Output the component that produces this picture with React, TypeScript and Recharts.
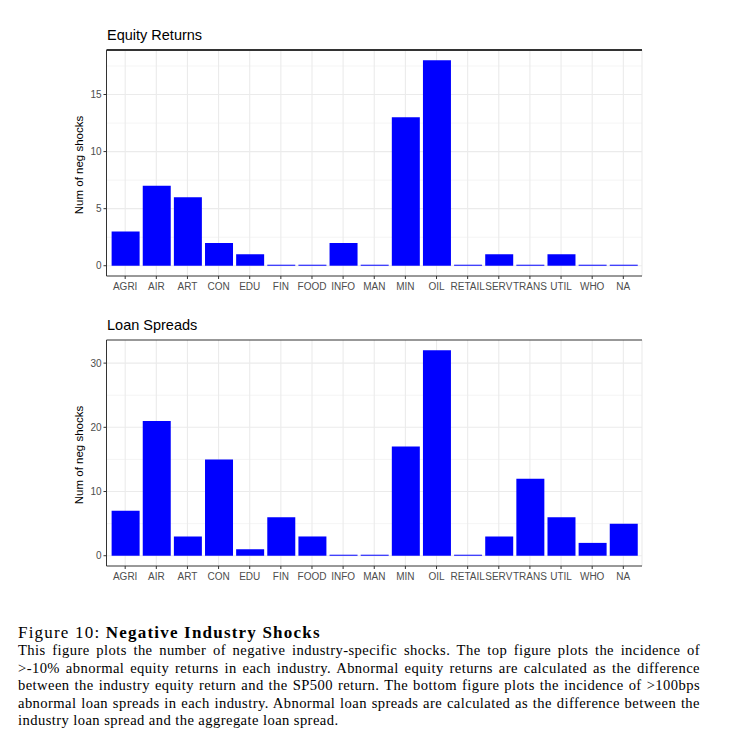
import { BarChart, Bar, XAxis, YAxis, CartesianGrid } from "recharts";

const industries = [
  "AGRI", "AIR", "ART", "CON", "EDU", "FIN", "FOOD", "INFO", "MAN",
  "MIN", "OIL", "RETAIL", "SERV", "TRANS", "UTIL", "WHO", "NA",
];

const equityShocks = [3, 7, 6, 2, 1, 0, 0, 2, 0, 13, 18, 0, 1, 0, 1, 0, 0];
const loanShocks = [7, 21, 3, 15, 1, 6, 3, 0, 0, 17, 32, 0, 3, 12, 6, 2, 5];

const equityTicks = [0, 5, 10, 15];
const equityMinor = [2.5, 7.5, 12.5, 17.5];
const loanTicks = [0, 10, 20, 30];
const loanMinor = [5, 15, 25];

const captionLines = [
  "This figure plots the number of negative industry-specific shocks.  The top figure plots the incidence of",
  ">-10% abnormal equity returns in each industry. Abnormal equity returns are calculated as the difference",
  "between the industry equity return and the SP500 return. The bottom figure plots the incidence of >100bps",
  "abnormal loan spreads in each industry. Abnormal loan spreads are calculated as the difference between the",
  "industry loan spread and the aggregate loan spread.",
];

const SANS = "'Liberation Sans', Arial, sans-serif";
const SERIF = "'Liberation Serif', 'Times New Roman', serif";

// ggplot-style expansion: 5% on continuous, 0.6 units on discrete
const xDomain = [-0.6, industries.length - 1 + 0.6];
const xTicks = industries.map((_, i) => i);

function expand(values: number[]): [number, number] {
  const max = Math.max(...values);
  return [-max * 0.05, max * 1.05];
}

interface PanelProps {
  title: string;
  values: number[];
  ticks: number[];
  minor: number[];
  top: number;
  topBorder: number;
}

function Panel({ title, values, ticks, minor, top, topBorder }: PanelProps) {
  const data = industries.map((name, i) => ({ idx: i, name, value: values[i] }));
  const yDomain = expand(values);

  return (
    <div style={{ position: "absolute", left: 0, top, width: 732, height: 300 }}>
      <div
        style={{
          position: "absolute",
          left: 107,
          top: 28,
          fontFamily: SANS,
          fontSize: 14.5,
          lineHeight: "14px",
          color: "#000",
          whiteSpace: "nowrap",
        }}
      >
        {title}
      </div>
      <div
        style={{
          position: "absolute",
          left: 79,
          top: 165,
          transform: "translate(-50%, -50%) rotate(-90deg)",
          fontFamily: SANS,
          fontSize: 11.5,
          lineHeight: "11px",
          color: "#000",
          whiteSpace: "nowrap",
        }}
      >
        Num of neg shocks
      </div>
      <BarChart
        width={732}
        height={300}
        data={data}
        margin={{ top: 50, right: 90, bottom: 4, left: 76.5 }}
      >
        <CartesianGrid
          vertical={false}
          horizontalValues={minor}
          stroke="#EBEBEB"
          strokeWidth={0.55}
        />
        <CartesianGrid
          horizontalValues={ticks}
          verticalValues={[...xTicks, xDomain[1]]}
          stroke="#EBEBEB"
          strokeWidth={1.1}
        />
        <CartesianGrid
          vertical={false}
          horizontalValues={[yDomain[1]]}
          stroke="#333333"
          strokeWidth={topBorder}
        />
        <XAxis
          dataKey="idx"
          type="number"
          domain={xDomain}
          ticks={xTicks}
          interval={0}
          allowDataOverflow
          tickFormatter={(i: number) => industries[i]}
          height={20}
          axisLine={{ stroke: "#333333", strokeWidth: 1 }}
          tickLine={{ stroke: "#333333" }}
          tickSize={3}
          tickMargin={4}
          tick={{ fill: "#4D4D4D", fontSize: 10, fontFamily: SANS }}
        />
        <YAxis
          type="number"
          domain={yDomain}
          ticks={ticks}
          allowDataOverflow
          width={30}
          axisLine={{ stroke: "#333333", strokeWidth: 1 }}
          tickLine={{ stroke: "#333333" }}
          tickSize={3}
          tickMargin={2}
          tick={{ fill: "#4D4D4D", fontSize: 10, fontFamily: SANS }}
        />
        <Bar
          dataKey="value"
          fill="#0000FF"
          barSize={28}
          minPointSize={1}
          isAnimationActive={false}
        />
      </BarChart>
    </div>
  );
}

export default function App() {
  return (
    <div
      style={{
        position: "absolute",
        left: 0,
        top: 0,
        width: 732,
        height: 747,
        background: "#fff",
        overflow: "hidden",
      }}
    >
      <Panel
        title="Equity Returns"
        values={equityShocks}
        ticks={equityTicks}
        minor={equityMinor}
        top={0}
        topBorder={2}
      />
      <Panel
        title="Loan Spreads"
        values={loanShocks}
        ticks={loanTicks}
        minor={loanMinor}
        top={290}
        topBorder={1.2}
      />
      <div
        style={{
          position: "absolute",
          left: 18,
          top: 623,
          width: 682,
          fontFamily: SERIF,
          color: "#000",
        }}
      >
        <div
          style={{
            fontSize: 17,
            lineHeight: "19px",
            letterSpacing: 1.2,
            whiteSpace: "nowrap",
          }}
        >
          Figure 10: <b>Negative Industry Shocks</b>
        </div>
        {captionLines.map((line, i) => (
          <div
            key={i}
            style={{
              fontSize: 14.6,
              lineHeight: "17.5px",
              letterSpacing: 0.42,
              whiteSpace: "nowrap",
              textAlign: "justify",
              textAlignLast: i === captionLines.length - 1 ? "left" : "justify",
            }}
          >
            {line}
          </div>
        ))}
      </div>
    </div>
  );
}
